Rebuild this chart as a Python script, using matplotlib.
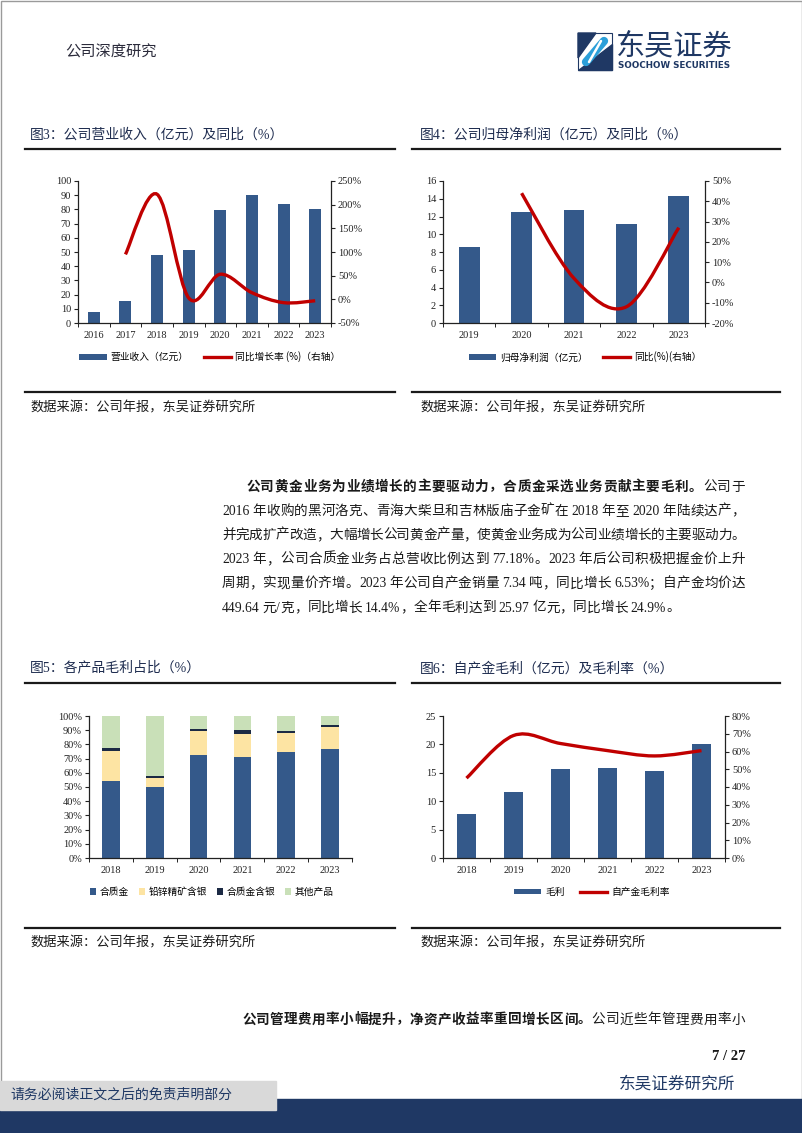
import re
import numpy as np
import matplotlib
matplotlib.use('Agg')
import matplotlib.pyplot as plt
from matplotlib.path import Path
from matplotlib.patches import PathPatch, Rectangle, Patch, Polygon
from matplotlib.lines import Line2D
from matplotlib.font_manager import FontProperties

CJK = ['Noto Sans CJK SC', 'DejaVu Sans']
MIX = ['Liberation Serif', 'Noto Sans CJK SC', 'DejaVu Sans']
plt.rcParams['font.family'] = MIX
plt.rcParams['axes.unicode_minus'] = False

# ---- 数据 ----
years_rev = ['2016', '2017', '2018', '2019', '2020', '2021', '2022', '2023']
revenue = [7.5, 15.2, 48.0, 51.7, 79.3, 90.3, 83.5, 80.6]
revenue_yoy = [np.nan, 95, 222, 3, 53, 14, -7, -3]

years_np = ['2019', '2020', '2021', '2022', '2023']
net_profit = [8.6, 12.5, 12.7, 11.2, 14.3]
net_profit_yoy = [np.nan, 44, 2, -12, 27]

years_mix = ['2018', '2019', '2020', '2021', '2022', '2023']
share_gold = [54.3, 50.2, 72.3, 70.8, 74.4, 76.5]
share_pbzn_ag = [21.0, 6.2, 17.0, 16.7, 13.4, 15.5]
share_gold_ag = [1.9, 1.6, 1.4, 2.5, 1.6, 1.4]
share_other = [22.8, 42.0, 9.3, 10.0, 10.6, 6.6]
mix_labels = ['合质金', '铅锌精矿含银', '合质金含银', '其他产品']

years_gp = ['2018', '2019', '2020', '2021', '2022', '2023']
gross_profit = [7.7, 11.7, 15.6, 15.9, 15.4, 20.0]
gross_margin = [45, 69, 64.5, 60.5, 57.5, 60.5]

BLUE = '#34598a'
RED = '#c00000'
YELLOW = '#fde4a3'
NAVY_S = '#1c2a44'
GREEN = '#c9e0b8'
NAVY = '#1f3864'
TXT = '#1a1a1a'

W, H = 802, 1133
fig = plt.figure(figsize=(W / 100, H / 100), dpi=100)
page = fig.add_axes([0, 0, 1, 1])
page.set_xlim(0, W)
page.set_ylim(H, 0)
page.axis('off')
renderer = fig.canvas.get_renderer()


def px_axes(x0, y0, x1, y1):
    ax = fig.add_axes([x0 / W, 1 - y1 / H, (x1 - x0) / W, (y1 - y0) / H])
    ax.set_facecolor('none')
    return ax


def smooth_line(ax, ys, color=RED, lw=2.4):
    pts = np.array([(i, y) for i, y in enumerate(ys) if not np.isnan(y)], float)
    n = len(pts)
    verts = [pts[0]]
    codes = [Path.MOVETO]
    for i in range(n - 1):
        p0, p1 = pts[max(i - 1, 0)], pts[i]
        p2, p3 = pts[i + 1], pts[min(i + 2, n - 1)]
        verts += [p1 + (p2 - p0) / 6, p2 - (p3 - p1) / 6, p2]
        codes += [Path.CURVE4] * 3
    ax.add_patch(PathPatch(Path(verts, codes), facecolor='none', edgecolor=color,
                           lw=lw, capstyle='butt', zorder=4))


def style_cat(ax, labels, ylim, yticks, pct=False):
    n = len(labels)
    ax.set_xlim(-0.5, n - 0.5)
    ax.set_ylim(*ylim)
    ax.set_yticks(yticks)
    ax.set_yticklabels([f'{v}%' if pct else f'{v}' for v in yticks])
    ax.set_xticks(range(n))
    ax.set_xticklabels(labels)
    ax.set_xticks(np.arange(-0.5, n), minor=True)
    ax.tick_params(axis='x', which='major', length=0, pad=6, labelsize=7.5, colors='#222')
    ax.tick_params(axis='x', which='minor', length=3, direction='out')
    ax.tick_params(axis='y', length=3, direction='out', pad=2, labelsize=7.5, colors='#222')
    for s in ['top', 'right']:
        ax.spines[s].set_visible(False)
    for s in ['left', 'bottom']:
        ax.spines[s].set_linewidth(0.9)
        ax.spines[s].set_color('#222')


def right_axis(ax, ylim, yticks):
    ax2 = ax.twinx()
    ax2.set_facecolor('none')
    ax2.set_ylim(*ylim)
    ax2.set_yticks(yticks)
    ax2.set_yticklabels([f'{v}%' for v in yticks])
    ax2.tick_params(axis='y', length=3, direction='out', pad=2, labelsize=7.5, colors='#222')
    for s in ['top', 'left', 'bottom']:
        ax2.spines[s].set_visible(False)
    ax2.spines['right'].set_linewidth(0.9)
    ax2.spines['right'].set_color('#222')
    return ax2


def bar_line_legend(ax, labels, cx, cy):
    handles = [Patch(facecolor=BLUE), Line2D([], [], color=RED, lw=2.4)]
    ax.legend(handles, labels, loc='center', bbox_to_anchor=(cx / W, 1 - cy / H),
              bbox_transform=fig.transFigure, ncol=2, frameon=False,
              prop=FontProperties(family=CJK, size=7), handlelength=2.8,
              handleheight=0.55, handletextpad=0.4, columnspacing=1.6)


# ---- 图3 ----
ax3 = px_axes(78, 181, 331, 323)
ax3.bar(range(len(years_rev)), revenue, width=0.38, color=BLUE, zorder=2)
style_cat(ax3, years_rev, (0, 100), list(range(0, 101, 10)))
ax3b = right_axis(ax3, (-50, 250), list(range(-50, 251, 50)))
smooth_line(ax3b, revenue_yoy)
bar_line_legend(ax3, ['营业收入（亿元）', '同比增长率 (%)（右轴）'], 210, 357)

# ---- 图4 ----
ax4 = px_axes(443, 181, 705, 323)
ax4.bar(range(len(years_np)), net_profit, width=0.4, color=BLUE, zorder=2)
style_cat(ax4, years_np, (0, 16), list(range(0, 17, 2)))
ax4b = right_axis(ax4, (-20, 50), list(range(-20, 51, 10)))
smooth_line(ax4b, net_profit_yoy)
bar_line_legend(ax4, ['归母净利润（亿元）', '同比(%)(右轴）'], 585, 357)

# ---- 图5 ----
ax5 = px_axes(89, 716, 352, 858)
x5 = np.arange(len(years_mix))
bottom = np.zeros(len(years_mix))
for vals, col in zip([share_gold, share_pbzn_ag, share_gold_ag, share_other],
                     [BLUE, YELLOW, NAVY_S, GREEN]):
    ax5.bar(x5, vals, bottom=bottom, width=0.4, color=col, zorder=2)
    bottom += np.array(vals)
style_cat(ax5, years_mix, (0, 100), list(range(0, 101, 10)), pct=True)
ax5.legend([Patch(facecolor=c) for c in [BLUE, YELLOW, NAVY_S, GREEN]], mix_labels,
           loc='center', bbox_to_anchor=(212 / W, 1 - 892 / H), bbox_transform=fig.transFigure,
           ncol=4, frameon=False, prop=FontProperties(family=CJK, size=7),
           handlelength=0.6, handleheight=0.6, handletextpad=0.4, columnspacing=1.0)

# ---- 图6 ----
ax6 = px_axes(443, 716, 725, 858)
ax6.bar(range(len(years_gp)), gross_profit, width=0.39, color=BLUE, zorder=2)
style_cat(ax6, years_gp, (0, 25), list(range(0, 26, 5)))
ax6b = right_axis(ax6, (0, 80), list(range(0, 81, 10)))
smooth_line(ax6b, gross_margin)
bar_line_legend(ax6, ['毛利', '自产金毛利率'], 592, 892)

# ---- 页面元素 ----
page.add_patch(Rectangle((0.5, 0.5), W - 1, H - 1, fill=False, ec='#9a9a9a', lw=1))
page.text(65, 52, '公司深度研究', family=CJK, fontsize=11, color='#2b2b3b', va='center')

# logo
page.add_patch(Polygon([(578, 33), (596, 33), (578, 58)], closed=True, color=NAVY))
page.add_patch(Polygon([(578, 70), (612, 70), (612, 44)], closed=True, color=NAVY))
page.add_patch(Rectangle((578, 33), 34, 37, fill=False, ec=NAVY, lw=0.8))
page.plot([586, 604], [62, 41], color='#2b9fd9', lw=6, solid_capstyle='round')
page.plot([589, 601], [62, 41], color='white', lw=1.8, solid_capstyle='round')
page.text(616, 46, '东吴证券', family=CJK, fontsize=21, color=NAVY, va='center')
page.text(618, 65, 'SOOCHOW SECURITIES', family=['DejaVu Sans'], fontsize=6.3,
          fontweight='bold', color=NAVY, va='center')

for (tx, lx0, lx1), title in zip([(30, 25, 395), (420, 412, 780)],
                                 ['图3：公司营业收入（亿元）及同比（%）',
                                  '图4：公司归母净利润（亿元）及同比（%）']):
    page.text(tx, 135, title, family=MIX, fontsize=10, color='#1f2d50', va='center')
    page.plot([lx0, lx1], [149, 149], color=TXT, lw=1.6)
    page.plot([lx0, lx1], [392, 392], color=TXT, lw=1.6)
    page.text(tx, 408, '数据来源：公司年报，东吴证券研究所', family=CJK, fontsize=9.5,
              color=TXT, va='center')

for (tx, lx0, lx1), title in zip([(30, 25, 395), (420, 412, 780)],
                                 ['图5：各产品毛利占比（%）',
                                  '图6：自产金毛利（亿元）及毛利率（%）']):
    page.text(tx, 668, title, family=MIX, fontsize=10, color='#1f2d50', va='center')
    page.plot([lx0, lx1], [683, 683], color=TXT, lw=1.6)
    page.plot([lx0, lx1], [928, 928], color=TXT, lw=1.6)
    page.text(tx, 943, '数据来源：公司年报，东吴证券研究所', family=CJK, fontsize=9.5,
              color=TXT, va='center')


def para_line(segments, x0, x1, y, justify=True, size=9.8):
    arts = []
    for s, bold in segments:
        for t in re.findall(r'[0-9A-Za-z.%/]+| |.', s):
            if t == ' ':
                arts.append((None, 3.0))
                continue
            a = page.text(0, y, t, family=MIX, fontsize=size, color=TXT, va='center',
                          fontweight='bold' if bold else 'normal')
            arts.append((a, a.get_window_extent(renderer).width))
    total = sum(w for _, w in arts)
    gap = (x1 - x0 - total) / (len(arts) - 1) if justify else 0.0
    x = x0
    for a, w in arts:
        if a is not None:
            a.set_x(x)
        x += w + gap


para = [
    ([('公司黄金业务为业绩增长的主要驱动力，合质金采选业务贡献主要毛利。', True), ('公司于', False)], 246, True),
    ([('2016 年收购的黑河洛克、青海大柴旦和吉林版庙子金矿在 2018 年至 2020 年陆续达产，', False)], 222, True),
    ([('并完成扩产改造，大幅增长公司黄金产量，使黄金业务成为公司业绩增长的主要驱动力。', False)], 222, True),
    ([('2023 年，公司合质金业务占总营收比例达到 77.18%。2023 年后公司积极把握金价上升', False)], 222, True),
    ([('周期，实现量价齐增。2023 年公司自产金销量 7.34 吨，同比增长 6.53%；自产金均价达', False)], 222, True),
    ([('449.64 元/克，同比增长 14.4%，全年毛利达到 25.97 亿元，同比增长 24.9%。', False)], 222, False),
]
for i, (segs, x0, just) in enumerate(para):
    para_line(segs, x0, 745, 487 + i * 24.2, justify=just)

para_line([('公司管理费用率小幅提升，净资产收益率重回增长区间。', True),
           ('公司近些年管理费用率小', False)], 242, 745, 1020)

page.text(745, 1057, '7 / 27', family=['Liberation Serif'], fontsize=10.5,
          fontweight='bold', color=TXT, ha='right', va='center')
page.text(735, 1084, '东吴证券研究所', family=CJK, fontsize=12, color=NAVY,
          ha='right', va='center')
page.add_patch(Rectangle((0, 1099), W, H - 1099, color=NAVY, zorder=1))
page.add_patch(Rectangle((0, 1081), 276, 29, color='#d9d9d9', zorder=2))
page.text(10, 1095, '请务必阅读正文之后的免责声明部分', family=CJK, fontsize=10,
          color=NAVY, va='center', zorder=3)

fig.savefig('out.png', dpi=100)
